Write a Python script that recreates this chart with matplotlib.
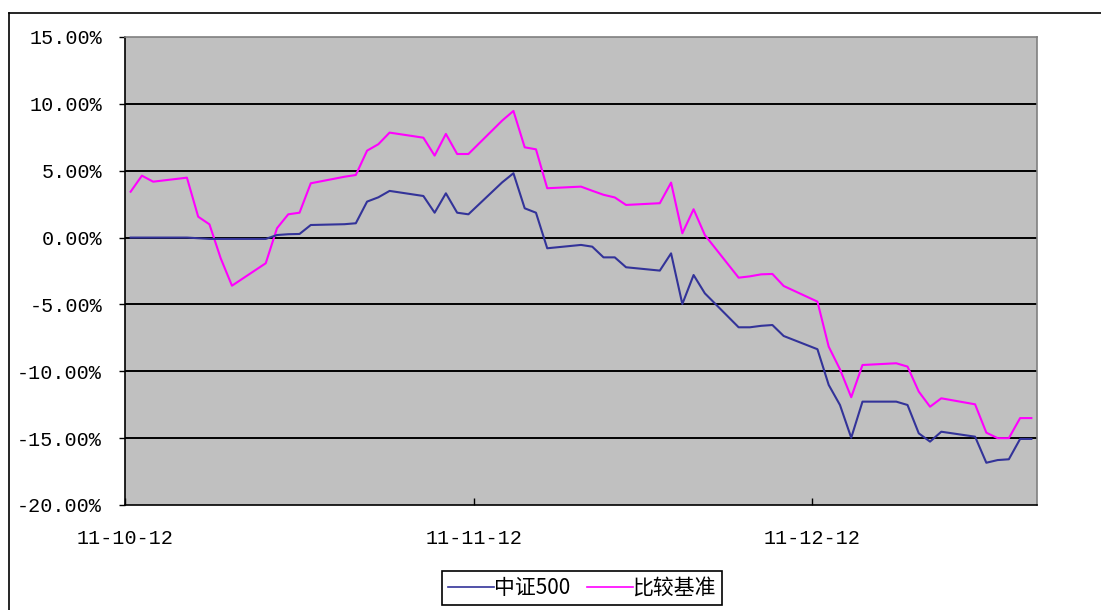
import matplotlib
matplotlib.use("Agg")
import matplotlib.pyplot as plt
import matplotlib.dates as mdates
from matplotlib.lines import Line2D
from matplotlib.ticker import FixedLocator, FuncFormatter
import pandas as pd

dates = ['2011-10-12', '2011-10-13', '2011-10-14', '2011-10-17', '2011-10-18', '2011-10-19',
         '2011-10-20', '2011-10-21', '2011-10-24', '2011-10-25', '2011-10-26', '2011-10-27',
         '2011-10-28', '2011-10-31', '2011-11-01', '2011-11-02', '2011-11-03', '2011-11-04',
         '2011-11-07', '2011-11-08', '2011-11-09', '2011-11-10', '2011-11-11', '2011-11-14',
         '2011-11-15', '2011-11-16', '2011-11-17', '2011-11-18', '2011-11-21', '2011-11-22',
         '2011-11-23', '2011-11-24', '2011-11-25', '2011-11-28', '2011-11-29', '2011-11-30',
         '2011-12-01', '2011-12-02', '2011-12-05', '2011-12-06', '2011-12-07', '2011-12-08',
         '2011-12-09', '2011-12-12', '2011-12-13', '2011-12-14', '2011-12-15', '2011-12-16',
         '2011-12-19', '2011-12-20', '2011-12-21', '2011-12-22', '2011-12-23', '2011-12-26',
         '2011-12-27', '2011-12-28', '2011-12-29', '2011-12-30', '2011-12-31']

csi500 = [0.00, 0.00, 0.00, 0.00, -0.05, -0.10,
          -0.10, -0.10, -0.10, 0.19, 0.25, 0.27,
          0.94, 1.00, 1.07, 2.69, 3.01, 3.49,
          3.11, 1.86, 3.31, 1.86, 1.74, 4.13,
          4.81, 2.19, 1.86, -0.80, -0.55, -0.68,
          -1.48, -1.48, -2.22, -2.47, -1.18, -4.97,
          -2.80, -4.17, -6.71, -6.71, -6.60, -6.54,
          -7.36, -8.35, -11.02, -12.52, -14.97, -12.27,
          -12.27, -12.52, -14.64, -15.26, -14.52, -14.89,
          -16.84, -16.64, -16.58, -15.06, -15.06]

benchmark = [3.43, 4.63, 4.18, 4.48, 1.56, 0.99,
             -1.55, -3.60, -1.92, 0.70, 1.74, 1.86,
             4.06, 4.55, 4.68, 6.50, 6.98, 7.85,
             7.47, 6.13, 7.75, 6.25, 6.25, 8.75,
             9.47, 6.75, 6.60, 3.69, 3.81, 3.50,
             3.20, 3.00, 2.44, 2.57, 4.11, 0.32,
             2.12, 0.19, -3.00, -2.90, -2.75, -2.72,
             -3.62, -4.79, -8.16, -9.85, -11.94, -9.53,
             -9.40, -9.65, -11.52, -12.65, -12.02, -12.47,
             -14.59, -15.00, -15.00, -13.50, -13.50]

series_names = ['中证500', '比较基准']
tick_dates = ['2011-10-12', '2011-11-12', '2011-12-12']
tick_labels = ['11-10-12', '11-11-12', '11-12-12']
y_ticks = [15, 10, 5, 0, -5, -10, -15, -20]

x = pd.to_datetime(dates) + pd.Timedelta(hours=12)

fig = plt.figure(figsize=(11.01, 6.10), dpi=100)
ax = fig.add_axes([125/1101, 1-505/610, (1037-125)/1101, (505-37)/610])
ax.set_facecolor('#C0C0C0')

for yv in y_ticks[1:-1]:
    ax.axhline(yv, color='black', lw=1.4, zorder=1)

ax.plot(x, csi500, color='#333399', lw=1.5, zorder=3, label=series_names[0])
ax.plot(x, benchmark, color='#FF00FF', lw=1.5, zorder=2, label=series_names[1])

ax.set_ylim(-20, 15)
ax.set_xlim(pd.Timestamp('2011-10-12'), pd.Timestamp('2012-01-01'))
ax.yaxis.set_major_locator(FixedLocator(y_ticks))
ax.yaxis.set_major_formatter(FuncFormatter(lambda v, p: f"{v:.2f}%"))
ax.xaxis.set_major_locator(FixedLocator([mdates.date2num(pd.Timestamp(d)) for d in tick_dates]))
ax.set_xticklabels(tick_labels)

mono = ['Liberation Mono', 'DejaVu Sans Mono']
for lab in ax.get_yticklabels() + ax.get_xticklabels():
    lab.set_fontfamily(mono)
    lab.set_fontsize(14.5)
    lab.set_color('black')

ax.tick_params(axis='y', direction='out', length=4, width=1, pad=12.5)
ax.tick_params(axis='x', direction='in', length=5, width=1, pad=17)

for s in ['left', 'bottom']:
    ax.spines[s].set_color('black')
    ax.spines[s].set_linewidth(1.2)
for s in ['top', 'right']:
    ax.spines[s].set_color('#808080')
    ax.spines[s].set_linewidth(1.2)

leg = fig.legend(loc='center', bbox_to_anchor=(582/1101, 1-588/610), ncol=2,
                 frameon=True, fancybox=False, edgecolor='black', framealpha=1,
                 handlelength=2.2, handletextpad=0.0, columnspacing=0.8,
                 borderpad=0.3, prop={'family': ['Noto Sans CJK SC', 'DejaVu Sans'], 'size': 15})
leg.get_frame().set_linewidth(1.2)
for h in leg.get_lines():
    h.set_linewidth(1.2)

# outer chart frame (left and top edges)
fig.add_artist(Line2D([9/1101, 9/1101], [0, 1-13/610], transform=fig.transFigure, color='black', lw=1.2))
fig.add_artist(Line2D([9/1101, 1], [1-13/610, 1-13/610], transform=fig.transFigure, color='black', lw=1.2))

fig.savefig('out.png', dpi=100)
